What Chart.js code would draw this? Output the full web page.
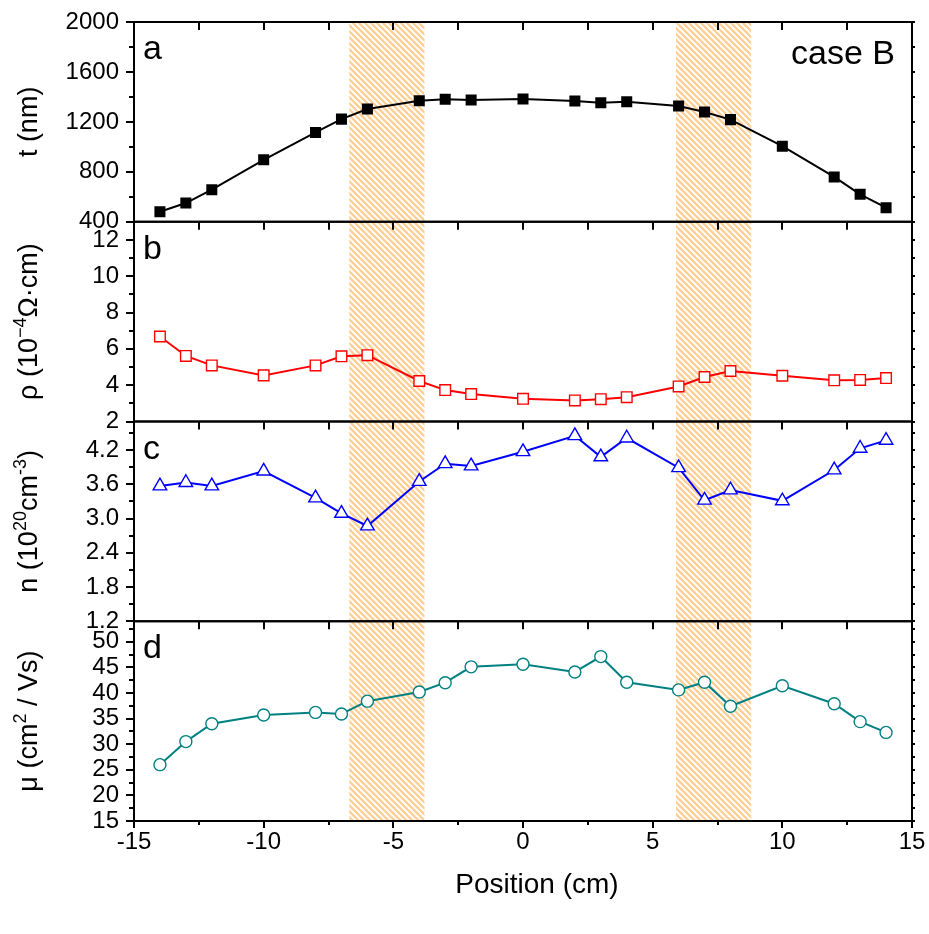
<!DOCTYPE html>
<html>
<head>
<meta charset="utf-8">
<script src="https://cdn.jsdelivr.net/npm/chart.js@4.4.1/dist/chart.umd.min.js"></script>
<style>
  body { margin: 0; background: #fff; }
  #wrap { width: 929px; height: 934px; position: relative; }
</style>
</head>
<body>
<div id="wrap"><canvas id="plot"></canvas></div>
<script>
// positions along the sample (cm)
const positions = [-14, -13, -12, -10, -8, -7, -6, -4, -3, -2, 0, 2, 3, 4, 6, 7, 8, 10, 12, 13, 14];
// a: film thickness (nm)
const thickness = [480, 550, 657, 896, 1115, 1222, 1303, 1370, 1381, 1375, 1383, 1367, 1354, 1362, 1327, 1279, 1218, 1005, 759, 620, 513];
// b: resistivity (1e-4 ohm cm)
const resistivity = [6.68, 5.61, 5.09, 4.54, 5.09, 5.59, 5.65, 4.23, 3.73, 3.51, 3.25, 3.16, 3.23, 3.34, 3.93, 4.45, 4.78, 4.52, 4.27, 4.29, 4.39];
// c: carrier concentration (1e20 cm-3)
const carriers = [3.57, 3.63, 3.57, 3.83, 3.36, 3.09, 2.87, 3.65, 3.96, 3.92, 4.17, 4.45, 4.08, 4.41, 3.89, 3.32, 3.50, 3.31, 3.85, 4.23, 4.37];
// d: mobility (cm2/Vs)
const mobility = [26.0, 30.5, 34.0, 35.7, 36.2, 35.9, 38.4, 40.2, 42.0, 45.1, 45.6, 44.1, 47.1, 42.1, 40.6, 42.1, 37.4, 41.4, 37.9, 34.4, 32.3];

// hatched zones (cm)
const zones = [[-6.7, -3.8], [5.9, 8.8]];

// tick labels
const xTicks = [-15, -10, -5, 0, 5, 10, 15];
const tTicks = [400, 800, 1200, 1600, 2000];
const rhoTicks = [2, 4, 6, 8, 10, 12];
const nTicks = [1.2, 1.8, 2.4, 3.0, 3.6, 4.2];
const muTicks = [15, 20, 25, 30, 35, 40, 45, 50];

const FONT = "'Liberation Sans', Arial, sans-serif";

function pts(ys) {
  return positions.map((x, i) => ({ x: x, y: ys[i] }));
}

// hatch pattern for the zones
function hatch() {
  const c = document.createElement("canvas");
  c.width = 6;
  c.height = 6;
  const g = c.getContext("2d");
  g.strokeStyle = "#ffcf96";
  g.lineWidth = 2.3;
  for (let k = -1; k <= 1; k++) {
    g.beginPath();
    g.moveTo(-2, k * 6 - 2);
    g.lineTo(8, k * 6 + 8);
    g.stroke();
  }
  return g.createPattern(c, "repeat");
}

// axis titles, split where superscripts go
const panels = [
  { id: "ya", ticks: tTicks, minor: 200, letter: "a", dec: 0,
    title: [["t (nm)"]] },
  { id: "yb", ticks: rhoTicks, minor: 1, letter: "b", dec: 0,
    title: [["ρ (10"], ["−4", 1], ["Ω·cm)"]] },
  { id: "yc", ticks: nTicks, minor: 0.3, letter: "c", dec: 1,
    title: [["n (10"], ["20", 1], ["cm"], ["-3", 1], [")"]] },
  { id: "yd", ticks: muTicks, minor: 2.5, letter: "d", dec: 0,
    title: [["μ (cm"], ["2", 1], [" / Vs)"]] },
];

const zonePlugin = {
  id: "zones",
  beforeDatasetsDraw(chart) {
    const ctx = chart.ctx;
    const x = chart.scales.x;
    const area = chart.chartArea;
    ctx.save();
    ctx.fillStyle = hatch();
    zones.forEach(z => {
      const x1 = x.getPixelForValue(z[0]);
      const x2 = x.getPixelForValue(z[1]);
      ctx.fillRect(x1, area.top, x2 - x1, area.bottom - area.top);
    });
    ctx.restore();
  },
};

function drawTitle(ctx, parts, cx, cy) {
  const size = 27;
  const supSize = 18;
  ctx.save();
  ctx.translate(cx, cy);
  ctx.rotate(-Math.PI / 2);
  ctx.fillStyle = "#000";
  ctx.textAlign = "left";
  ctx.textBaseline = "alphabetic";
  let total = 0;
  parts.forEach(p => {
    ctx.font = (p[1] ? supSize : size) + "px " + FONT;
    total += ctx.measureText(p[0]).width;
  });
  let pos = -total / 2;
  parts.forEach(p => {
    ctx.font = (p[1] ? supSize : size) + "px " + FONT;
    ctx.fillText(p[0], pos, p[1] ? 7 - 11 : 7);
    pos += ctx.measureText(p[0]).width;
  });
  ctx.restore();
}

const framePlugin = {
  id: "frames",
  afterDraw(chart) {
    const ctx = chart.ctx;
    const x = chart.scales.x;
    const { left, right } = chart.chartArea;
    ctx.save();
    ctx.strokeStyle = "#000";
    ctx.lineWidth = 2;
    const line = (x1, y1, x2, y2) => {
      ctx.beginPath();
      ctx.moveTo(x1, y1);
      ctx.lineTo(x2, y2);
      ctx.stroke();
    };
    panels.forEach(p => {
      const s = chart.scales[p.id];
      ctx.strokeRect(left, s.top, right - left, s.bottom - s.top);
      for (let v = -15; v <= 15; v += 2.5) {
        const px = Math.round(x.getPixelForValue(v));
        line(px, s.top, px, s.top + 8);
      }
      for (let k = 0; ; k++) {
        const v = p.ticks[0] + k * p.minor;
        if (v > s.max + 1e-6) break;
        const py = Math.round(s.getPixelForValue(v));
        const major = p.ticks.some(t => Math.abs(t - v) < 1e-6);
        line(left, py, left - (major ? 8 : 5), py);
        line(right, py, right + 3, py);
      }
      // panel letter
      ctx.fillStyle = "#000";
      ctx.font = "34px " + FONT;
      ctx.textAlign = "left";
      ctx.textBaseline = "alphabetic";
      ctx.fillText(p.letter, left + 9, s.top + 37);
      drawTitle(ctx, p.title, 30, (s.top + s.bottom) / 2);
    });
    const bottom = chart.scales.yd.bottom;
    for (let v = -15; v <= 15; v += 2.5) {
      const px = Math.round(x.getPixelForValue(v));
      const major = xTicks.includes(v);
      line(px, bottom, px, bottom + (major ? 7 : 4));
    }
    ctx.fillStyle = "#000";
    ctx.font = "34px " + FONT;
    ctx.textAlign = "right";
    ctx.fillText("case B", right - 17, chart.scales.ya.top + 42);
    ctx.font = "28px " + FONT;
    ctx.textAlign = "center";
    ctx.fillText("Position (cm)", 537, 893);
    ctx.restore();
  },
};

function yAxis(p, min, max) {
  return {
    type: "linear",
    position: "left",
    stack: "panels",
    stackWeight: 1,
    min: min,
    max: max,
    afterBuildTicks: s => { s.ticks = p.ticks.map(v => ({ value: v })); },
    afterFit: s => { s.width = 134; s.paddingTop = 0; s.paddingBottom = 0; },
    grid: { display: false, drawTicks: false },
    border: { display: false },
    ticks: {
      autoSkip: false,
      padding: 15,
      color: "#000",
      font: { family: FONT, size: 24 },
      callback: v => Number(v).toFixed(p.dec),
    },
  };
}

const white = "#ffffff";

new Chart(document.getElementById("plot"), {
  type: "scatter",
  data: {
    datasets: [
      {
        data: pts(thickness), yAxisID: "ya", showLine: true,
        borderColor: "#000", backgroundColor: "#000", borderWidth: 2,
        pointStyle: "rect", pointRadius: 7.8, pointBorderWidth: 0,
      },
      {
        data: pts(resistivity), yAxisID: "yb", showLine: true,
        borderColor: "#ff0000", backgroundColor: white, borderWidth: 2,
        pointStyle: "rect", pointRadius: 7.5, pointBorderWidth: 1.4,
      },
      {
        data: pts(carriers), yAxisID: "yc", showLine: true,
        borderColor: "#0000ff", backgroundColor: white, borderWidth: 2,
        pointStyle: "triangle", pointRadius: 7.8, pointBorderWidth: 1.4,
      },
      {
        data: pts(mobility), yAxisID: "yd", showLine: true,
        borderColor: "#008080", backgroundColor: white, borderWidth: 2,
        pointStyle: "circle", pointRadius: 6, pointBorderWidth: 1.4,
      },
    ],
  },
  options: {
    responsive: true,
    maintainAspectRatio: false,
    animation: false,
    layout: { padding: { top: 22, right: 17, bottom: 35, left: 0 } },
    plugins: { legend: { display: false }, tooltip: { enabled: false } },
    scales: {
      x: {
        type: "linear",
        position: "bottom",
        min: -15,
        max: 15,
        afterBuildTicks: s => { s.ticks = xTicks.map(v => ({ value: v })); },
        afterFit: s => { s.height = 78; s.paddingLeft = 0; s.paddingRight = 0; },
        grid: { display: false, drawTicks: false },
        border: { display: false },
        ticks: { padding: 7, maxRotation: 0, autoSkip: false, color: "#000", font: { family: FONT, size: 24 } },
      },
      yd: yAxis(panels[3], 15, 54),
      yc: yAxis(panels[2], 1.2, 4.7),
      yb: yAxis(panels[1], 2, 13),
      ya: yAxis(panels[0], 400, 2000),
    },
  },
  plugins: [zonePlugin, framePlugin],
});
</script>
</body>
</html>
